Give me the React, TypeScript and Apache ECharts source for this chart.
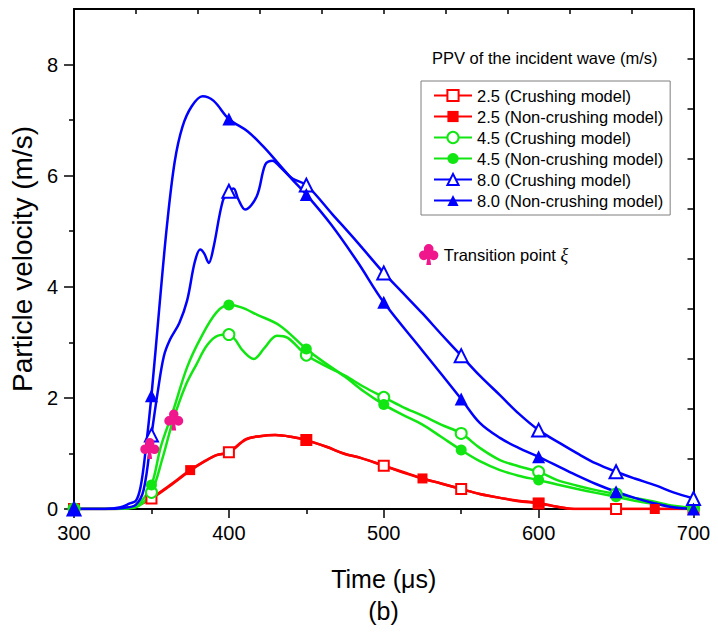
import * as echarts from 'echarts';
import React, { useEffect, useRef } from 'react';

const FONT = '"Liberation Sans", Arial, sans-serif';

// PPV 2.5 m/s
const red25Crushing: [number, number][] = [
  [300, 0], [320, 0], [332, 0.01], [340, 0.05], [350, 0.19], [362, 0.42], [375, 0.69], [385, 0.87],
  [392, 0.97], [400, 1.02], [411, 1.25], [420, 1.31], [430, 1.33], [440, 1.3], [450, 1.24], [463, 1.12],
  [475, 0.99], [485, 0.92], [500, 0.78], [512, 0.67], [525, 0.55], [537, 0.46], [550, 0.36], [562, 0.27],
  [575, 0.2], [587, 0.14], [600, 0.1], [612, 0.04], [625, 0], [650, 0], [675, 0], [700, 0],
];
const red25NonCrushing: [number, number][] = [
  [300, 0], [320, 0], [332, 0.01], [340, 0.05], [350, 0.2], [362, 0.43], [375, 0.7], [385, 0.87],
  [392, 0.97], [400, 1.02], [411, 1.26], [420, 1.31], [430, 1.33], [440, 1.3], [450, 1.24], [463, 1.12],
  [475, 0.99], [485, 0.92], [500, 0.78], [512, 0.66], [525, 0.55], [537, 0.46], [550, 0.36], [562, 0.27],
  [575, 0.2], [587, 0.15], [600, 0.11], [612, 0.04], [625, 0], [650, 0], [675, 0], [700, 0],
];

// PPV 4.5 m/s
const green45Crushing: [number, number][] = [
  [300, 0], [320, 0], [335, 0.01], [342, 0.06], [350, 0.3], [357, 0.9], [364, 1.6], [372, 2.22],
  [379, 2.6], [386, 2.95], [393, 3.12], [400, 3.14], [404, 3.05], [409, 2.85], [416, 2.7], [423, 2.9],
  [431, 3.12], [438, 3.08], [450, 2.77], [462, 2.58], [475, 2.4], [487, 2.2], [500, 2.01], [512, 1.84],
  [525, 1.68], [537, 1.52], [550, 1.36], [562, 1.1], [575, 0.88], [587, 0.77], [600, 0.67], [612, 0.52],
  [625, 0.42], [637, 0.34], [650, 0.27], [662, 0.2], [675, 0.13], [687, 0.06], [700, 0.02],
];
const green45NonCrushing: [number, number][] = [
  [300, 0], [320, 0], [335, 0.02], [342, 0.1], [350, 0.43], [356, 1.12], [364, 1.77], [373, 2.55],
  [382, 3.09], [392, 3.54], [400, 3.67], [408, 3.63], [418, 3.5], [433, 3.3], [450, 2.88], [462, 2.63],
  [475, 2.38], [487, 2.12], [500, 1.88], [512, 1.7], [525, 1.52], [537, 1.3], [550, 1.06], [562, 0.86],
  [575, 0.7], [587, 0.6], [600, 0.52], [612, 0.44], [625, 0.36], [637, 0.29], [650, 0.22], [662, 0.15],
  [675, 0.09], [687, 0.04], [700, 0],
];

// PPV 8.0 m/s
const blue80Crushing: [number, number][] = [
  [300, 0], [320, 0], [332, 0.02], [340, 0.08], [345, 0.35], [350, 1.33], [354, 2.1], [358, 2.75],
  [362, 3.05], [368, 3.35], [373, 3.75], [378, 4.45], [381.5, 4.67], [384, 4.6], [387, 4.43], [390, 4.7],
  [396, 5.54], [400, 5.72], [403, 5.77], [406, 5.58], [410.5, 5.39], [418, 5.63], [423.5, 6.2], [428, 6.27],
  [433, 6.16], [441, 5.95], [450, 5.83], [467, 5.3], [483, 4.8], [500, 4.25], [512, 3.9], [525, 3.52],
  [537, 3.15], [550, 2.76], [562, 2.4], [575, 2.05], [587, 1.72], [600, 1.42], [614, 1.18], [625, 1.0],
  [637, 0.82], [650, 0.67], [662, 0.55], [676, 0.42], [687, 0.3], [700, 0.19],
];
const blue80NonCrushing: [number, number][] = [
  [300, 0], [320, 0], [330, 0.03], [336, 0.1], [340, 0.15], [343, 0.4], [346, 1.0], [350, 2.04],
  [355, 3.6], [360, 5.1], [365, 6.25], [370, 6.88], [376, 7.25], [383, 7.43], [390, 7.35], [400, 7.02],
  [412, 6.8], [422, 6.53], [431, 6.25], [441, 5.93], [450, 5.66], [466, 5.12], [483, 4.45], [500, 3.72],
  [525, 2.85], [550, 1.98], [562, 1.55], [575, 1.28], [587, 1.1], [600, 0.94], [614, 0.75], [625, 0.6],
  [637, 0.45], [650, 0.31], [662, 0.2], [675, 0.1], [687, 0.03], [700, 0],
];

const transitionPoints: [number, number][] = [[348.9, 1.09], [364.4, 1.6]];

// times that carry a marker
const marksEvery50 = [300, 350, 400, 450, 500, 550, 600, 650, 700];
const marksEvery75 = [300, 375, 450, 525, 600, 675];

const xTicks = { min: 300, max: 700, interval: 100 };
const yTicks = { min: 0, max: 9, interval: 2 };
const yLabelValues = [0, 2, 4, 6, 8];

const RED = '#ff0000';
const GREEN = '#12e612';
const BLUE = '#0000ff';
const PINK = '#f0168c';

// club suit: three lobes and a stem
const CLUB =
  'path://M6,6 A6,6 0 0 1 18,6 A6,6 0 0 1 6,6 Z M0,14 A6,6 0 0 1 12,14 A6,6 0 0 1 0,14 Z ' +
  'M12,14 A6,6 0 0 1 24,14 A6,6 0 0 1 12,14 Z M11,12 L13,12 L15,26 L9,26 Z';

function curve(name: string, pts: [number, number][], marks: number[], color: string, symbol: string, size: number) {
  return {
    type: 'line',
    name,
    data: pts.map(([t, v]) => (marks.includes(t) ? [t, v] : { value: [t, v], symbol: 'none' })),
    symbol,
    symbolSize: size,
    showSymbol: true,
    showAllSymbol: true,
    smooth: 0.35,
    lineStyle: { color, width: 2.5 },
    itemStyle: { color, borderWidth: symbol.startsWith('empty') ? 1.3 : 0 },
  };
}

export default function App(): React.ReactElement {
  const ref = useRef<HTMLDivElement>(null);

  useEffect(() => {
    if (!ref.current) {
      return;
    }
    const chart = echarts.init(ref.current, undefined, { renderer: 'svg' });
    const black = { color: '#000', width: 2 };

    chart.setOption({
      animation: false,
      backgroundColor: '#fff',
      textStyle: { fontFamily: FONT, color: '#000' },
      title: {
        text: 'PPV of the incident wave (m/s)',
        left: 432,
        top: 49,
        padding: 0,
        textStyle: { fontSize: 16.5, fontWeight: 'normal', color: '#000', fontFamily: FONT },
      },
      grid: { left: 73.5, right: 24.5, top: 9, bottom: 123 },
      legend: [
        {
          data: [
            '2.5 (Crushing model)',
            '2.5 (Non-crushing model)',
            '4.5 (Crushing model)',
            '4.5 (Non-crushing model)',
            '8.0 (Crushing model)',
            '8.0 (Non-crushing model)',
          ],
          orient: 'vertical',
          left: 421,
          top: 81,
          padding: [6, 7, 6, 12],
          itemWidth: 38,
          itemHeight: 14,
          itemGap: 4,
          borderColor: '#7f7f7f',
          borderWidth: 1,
          selectedMode: false,
          textStyle: { fontSize: 16.5, color: '#000', fontFamily: FONT },
        },
        {
          data: ['Transition point ξ'],
          left: 419,
          top: 244,
          padding: 0,
          itemWidth: 20,
          itemHeight: 21,
          selectedMode: false,
          formatter: () => '{n|Transition point }{x|ξ}',
          textStyle: {
            color: '#000',
            rich: {
              n: { fontSize: 16.5, fontFamily: FONT, color: '#000' },
              x: { fontSize: 18, fontStyle: 'italic', fontFamily: '"Liberation Serif", serif', color: '#000' },
            },
          },
        },
      ],
      xAxis: [
        {
          type: 'value',
          ...xTicks,
          position: 'bottom',
          name: 'Time (μs)',
          nameLocation: 'middle',
          nameGap: 57,
          nameTextStyle: { fontSize: 25, color: '#000', fontFamily: FONT },
          axisLine: { show: true, onZero: false, lineStyle: black },
          axisTick: { show: true, inside: false, length: 9, lineStyle: { color: '#000', width: 1.5 } },
          minorTick: { show: true, splitNumber: 2, length: 5, lineStyle: { color: '#000', width: 1.5 } },
          axisLabel: { color: '#000', fontSize: 20, margin: 14, fontFamily: FONT },
          splitLine: { show: false },
        },
        {
          type: 'value',
          min: 300,
          max: 700,
          interval: 40,
          position: 'top',
          axisLine: { show: true, onZero: false, lineStyle: black },
          axisTick: { show: true, inside: true, length: 5, lineStyle: { color: '#000', width: 1.5 } },
          axisLabel: { show: false },
          splitLine: { show: false },
        },
      ],
      yAxis: [
        {
          type: 'value',
          ...yTicks,
          position: 'left',
          name: 'Particle velocity (m/s)',
          nameLocation: 'middle',
          nameGap: 38,
          nameTextStyle: { fontSize: 28, color: '#000', fontFamily: FONT },
          axisLine: { show: true, onZero: false, lineStyle: black },
          axisTick: {
            show: true,
            inside: false,
            length: 10,
            customValues: yLabelValues,
            lineStyle: { color: '#000', width: 1.5 },
          },
          minorTick: { show: true, splitNumber: 2, length: 5, lineStyle: { color: '#000', width: 1.5 } },
          axisLabel: {
            color: '#000',
            fontSize: 20,
            margin: 16,
            fontFamily: FONT,
            customValues: yLabelValues,
          },
          splitLine: { show: false },
        },
        {
          type: 'value',
          min: 0,
          max: 10,
          interval: 1,
          position: 'right',
          axisLine: { show: true, onZero: false, lineStyle: black },
          axisTick: { show: true, inside: true, length: 6, lineStyle: { color: '#000', width: 1.5 } },
          axisLabel: { show: false },
          splitLine: { show: false },
        },
      ],
      graphic: [
        {
          type: 'text',
          x: 383.5,
          y: 611,
          style: { text: '(b)', fontSize: 25, fontFamily: FONT, fill: '#000', align: 'center', verticalAlign: 'middle' },
        },
      ],
      series: [
        curve('2.5 (Crushing model)', red25Crushing, marksEvery50, RED, 'emptyRect', 10),
        curve('2.5 (Non-crushing model)', red25NonCrushing, marksEvery75, RED, 'rect', 10),
        curve('4.5 (Crushing model)', green45Crushing, marksEvery50, GREEN, 'emptyCircle', 11),
        curve('4.5 (Non-crushing model)', green45NonCrushing, marksEvery50, GREEN, 'circle', 11),
        curve('8.0 (Crushing model)', blue80Crushing, marksEvery50, BLUE, 'emptyTriangle', 13),
        curve('8.0 (Non-crushing model)', blue80NonCrushing, marksEvery50, BLUE, 'triangle', 13),
        {
          type: 'scatter',
          name: 'Transition point ξ',
          data: transitionPoints,
          symbol: CLUB,
          symbolSize: [19, 21],
          itemStyle: { color: PINK, opacity: 1 },
          z: 5,
        },
      ],
    });

    return () => {
      chart.dispose();
    };
  }, []);

  return (
    <div
      ref={ref}
      style={{ position: 'absolute', left: 0, top: 0, width: 718, height: 632, background: '#fff' }}
    />
  );
}
